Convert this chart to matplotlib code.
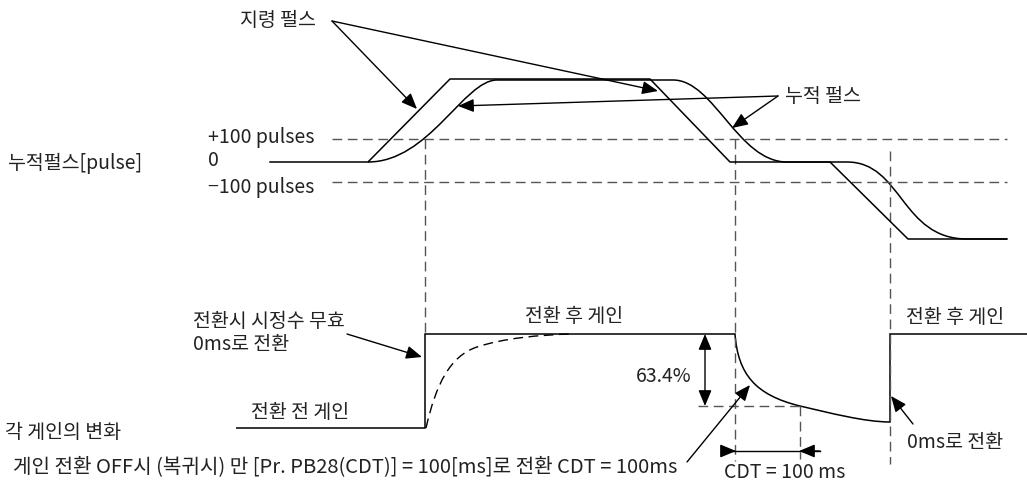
import matplotlib
matplotlib.use("Agg")
import matplotlib.pyplot as plt
from matplotlib.path import Path
from matplotlib.patches import PathPatch

plt.rcParams["font.family"] = ["Noto Sans CJK KR", "DejaVu Sans"]

W, H = 1027, 485

# ---- 누적 펄스 (top) : diagram coordinates in pixels, y grows downward ----
level_plus100 = 140
level_zero = 163
level_minus100 = 183
level_top = 81
level_bottom = 240

# 지령 펄스 (command) corners
cmd_x = [270, 368, 450, 650, 730, 830, 908, 1007]
cmd_y = [163, 163, 80, 80, 163, 163, 240, 240]

# 누적 펄스 (accumulated): vertices + path codes (cubic bezier control points)
acc_pts = [(368, 163), (429, 163), (464, 81), (497, 81),
           (673, 81), (714, 81), (738, 163), (787, 163),
           (847, 163), (902, 163), (901, 240), (967, 240),
           (1007, 240)]
acc_codes = ["M", "C", "C", "C", "L", "C", "C", "C", "L", "C", "C", "C", "L"]

# ---- 각 게인의 변화 (bottom) ----
gain_pts = [(236, 429), (425, 429), (425, 335), (735, 335),
            (738, 375), (755, 396), (800, 407),
            (830, 414), (865, 423), (890, 423),
            (890, 335), (1027, 335)]
gain_codes = ["M", "L", "L", "L", "C", "C", "C", "C", "C", "C", "L", "L"]

gain_dash_pts = [(426, 429), (436, 385), (450, 357), (477, 348),
                 (504, 339), (540, 336), (570, 335)]
gain_dash_codes = ["M", "C", "C", "C", "C", "C", "C"]

# dashed guides: (x0, y0, x1, y1)
guides = [
    (332, level_plus100, 1007, level_plus100),
    (332, level_minus100, 1007, level_minus100),
    (425, level_plus100, 425, 335),
    (735, level_plus100, 735, 462),
    (890, 152, 890, 465),
    (698, 407, 800, 407),
    (800, 407, 800, 460),
]

# arrows: (tail, head)
arrows = [
    ((332, 22), (417, 110)),
    ((332, 22), (658, 92)),
    ((778, 97), (732, 129)),
    ((778, 97), (458, 107)),
    ((347, 335), (422, 358)),
    ((687, 463), (750, 386)),
    ((913, 425), (891, 397)),
    ((820, 452), (799, 452)),
    ((722, 452), (736, 452)),
]

labels = [
    ("지령 펄스", 316, 21, "right"),
    ("누적 펄스", 785, 97, "left"),
    ("누적펄스[pulse]", 8, 163, "left"),
    ("+100 pulses", 208, 138, "left"),
    ("0", 208, 161, "left"),
    ("−100 pulses", 208, 188, "left"),
    ("전환시 시정수 무효", 193, 322, "left"),
    ("0ms로 전환", 193, 345, "left"),
    ("전환 후 게인", 574, 317, "center"),
    ("전환 전 게인", 300, 413, "center"),
    ("각 게인의 변화", 5, 433, "left"),
    ("게인 전환 OFF시 (복귀시) 만 [Pr. PB28(CDT)] = 100[ms]로 전환 CDT = 100ms", 13, 467, "left"),
    ("63.4%", 664, 377, "center"),
    ("CDT = 100 ms", 785, 473, "center"),
    ("전환 후 게인", 955, 318, "center"),
    ("0ms로 전환", 955, 443, "center"),
]

CODE = {"M": Path.MOVETO, "L": Path.LINETO, "C": Path.CURVE4}


def add_path(ax, pts, codes, **kw):
    path = Path(pts, [CODE[c] for c in codes])
    ax.add_patch(PathPatch(path, fill=False, **kw))


fig = plt.figure(figsize=(W / 100, H / 100), dpi=100)
ax = fig.add_axes([0, 0, 1, 1])
ax.set_xlim(0, W)
ax.set_ylim(H, 0)
ax.axis("off")

line_kw = dict(color="black", lw=1.1)
dash_kw = dict(color="#555555", lw=1.0, dashes=(7, 4))

for x0, y0, x1, y1 in guides:
    ax.plot([x0, x1], [y0, y1], **dash_kw)

ax.plot(cmd_x, cmd_y, **line_kw)
add_path(ax, acc_pts, acc_codes, edgecolor="black", lw=1.1)
add_path(ax, gain_pts, gain_codes, edgecolor="black", lw=1.1)
add_path(ax, gain_dash_pts, gain_dash_codes, edgecolor="black", lw=1.0,
         linestyle=(0, (7, 4)))

# 63.4% double arrow and CDT dimension line
ax.annotate("", xy=(705, 407), xytext=(705, 335),
            arrowprops=dict(arrowstyle="<|-|>,head_length=0.6,head_width=0.25",
                            mutation_scale=16, color="black", lw=1.0,
                            shrinkA=0, shrinkB=0))
ax.plot([722, 820], [452, 452], color="black", lw=1.0)

for (tx, ty), (hx, hy) in arrows:
    ax.annotate("", xy=(hx, hy), xytext=(tx, ty),
                arrowprops=dict(arrowstyle="-|>,head_length=0.6,head_width=0.25",
                                mutation_scale=16, color="black", lw=1.0,
                                shrinkA=0, shrinkB=0))

for text, x, y, ha in labels:
    size = 14.5 if len(text) > 40 else 14
    ax.text(x, y, text, ha=ha, va="center", fontsize=size, color="#222222")

fig.savefig("out.png", dpi=100)
